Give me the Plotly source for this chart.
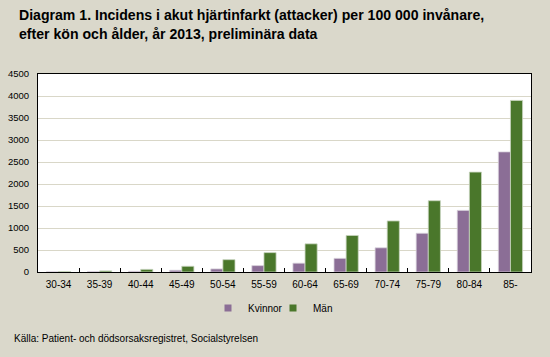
import plotly.graph_objects as go

categories = ["30-34", "35-39", "40-44", "45-49", "50-54", "55-59", "60-64",
              "65-69", "70-74", "75-79", "80-84", "85-"]
kvinnor = [3, 8, 15, 40, 70, 145, 200, 310, 550, 880, 1400, 2730]
man = [10, 25, 60, 130, 280, 440, 640, 830, 1160, 1620, 2270, 3900]
y_ticks = [0, 500, 1000, 1500, 2000, 2500, 3000, 3500, 4000, 4500]

bg = "#DAD8CB"
c_k = "#8B6E96"
c_m = "#4A772B"
fam = "Liberation Sans, Arial, sans-serif"

fig = go.Figure()
fig.add_trace(go.Bar(x=categories, y=kvinnor, name="Kvinnor", showlegend=False,
                     marker=dict(color=c_k, line=dict(color="#D8D2DC", width=0.8))))
fig.add_trace(go.Bar(x=categories, y=man, name="Män", showlegend=False,
                     marker=dict(color=c_m, line=dict(color="#C9D6C0", width=0.8))))
# legend entries with small square swatches
fig.add_trace(go.Scatter(x=[None], y=[None], mode="markers", name="Kvinnor",
                         marker=dict(symbol="square", size=7, color=c_k)))
fig.add_trace(go.Scatter(x=[None], y=[None], mode="markers", name="Män",
                         marker=dict(symbol="square", size=7, color=c_m)))

fig.update_layout(
    width=550, height=357,
    paper_bgcolor=bg, plot_bgcolor="white",
    margin=dict(l=38, r=19, t=74, b=85, autoexpand=False),
    barmode="group", bargap=0.41, bargroupgap=0,
    font=dict(family=fam, size=10, color="#000"),
    showlegend=True,
    legend=dict(orientation="h", x=(208 - 38) / 493, xanchor="left", y=-36 / 198,
                yanchor="middle", bgcolor="rgba(0,0,0,0)", font=dict(size=10),
                itemwidth=30, entrywidth=20, traceorder="normal"),
    annotations=[
        dict(text="<b>Diagram 1. Incidens i akut hjärtinfarkt (attacker) per 100 000 invånare,</b>",
             xref="paper", yref="paper", x=(17 - 38) / 493, y=1 + (74 - 15) / 198,
             xanchor="left", yanchor="middle", showarrow=False,
             font=dict(size=14.1, family=fam, color="#000")),
        dict(text="<b>efter kön och ålder, år 2013, preliminära data</b>",
             xref="paper", yref="paper", x=(17 - 38) / 493, y=1 + (74 - 34) / 198,
             xanchor="left", yanchor="middle", showarrow=False,
             font=dict(size=14.1, family=fam, color="#000")),
        dict(text="Källa: Patient- och dödsorsaksregistret, Socialstyrelsen",
             xref="paper", yref="paper", x=(12 - 38) / 493, y=-(338 - 272) / 198,
             xanchor="left", yanchor="middle", showarrow=False,
             font=dict(size=10, family=fam, color="#000")),
    ],
)
fig.update_xaxes(showline=True, linecolor="black", linewidth=1, mirror=True,
                 ticks="inside", tickson="boundaries", ticklen=4, tickcolor="black",
                 showgrid=False, tickfont=dict(size=10), ticklabelstandoff=3,
                 automargin=False)
fig.update_yaxes(range=[0, 4500], tickvals=y_ticks, showline=True, linecolor="black",
                 linewidth=1, mirror=True, showgrid=True, gridcolor="#D9D7C8",
                 gridwidth=1, ticks="", zeroline=False, tickfont=dict(size=9.5),
                 ticklabelstandoff=6, automargin=False)

fig.write_html("out.html",
               config={"displayModeBar": False},
               post_script="document.body.style.margin='0';"
                           "document.body.style.background='#DAD8CB';"
                           "document.body.style.overflow='hidden';")
